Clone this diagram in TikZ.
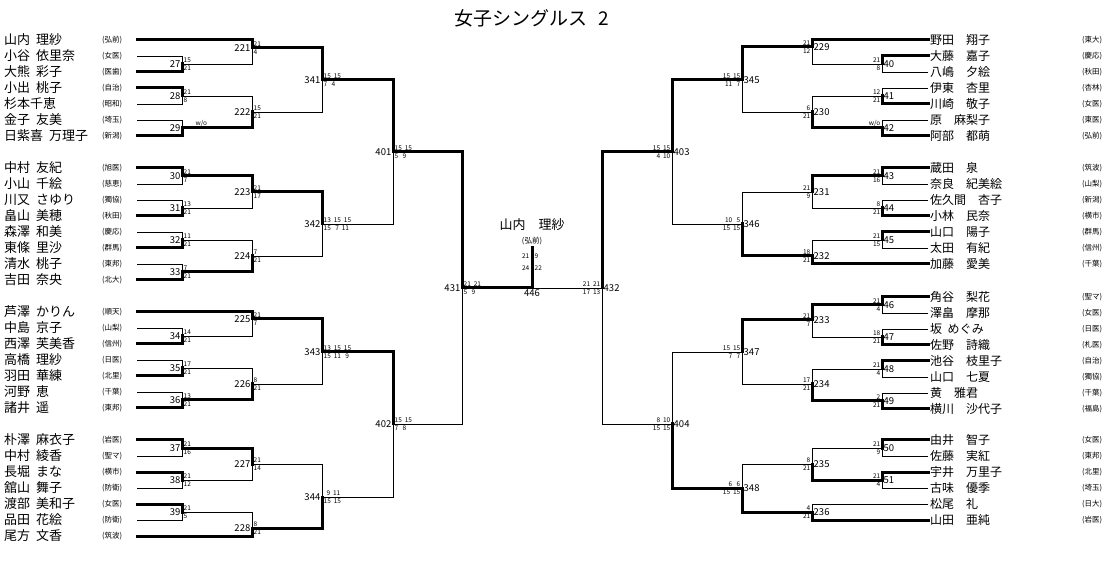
\documentclass[tikz,border=0pt]{standalone}
\usepackage{fontspec}
\setmainfont{Noto Sans CJK JP}
\usetikzlibrary{positioning}

\newcommand\hsp{\hspace{.45em}}
\newcommand\fsp{\hspace{1em}}

\tikzset{
  win/.style={line width=3pt,line cap=rect},
  lose/.style={line width=0.8pt},
  lname/.style={anchor=west,inner sep=0pt,font=\fontsize{13}{13}\selectfont},
  rname/.style={anchor=west,inner sep=0pt,font=\fontsize{12}{12}\selectfont},
  school/.style={anchor=west,inner sep=0pt,font=\fontsize{7.5}{7.5}\selectfont},
  num/.style={inner sep=1.5pt,font=\fontsize{9.5}{9.5}\selectfont},
  sc/.style={inner xsep=1.5pt,inner ysep=1.2pt,font=\fontsize{6.5}{6.5}\selectfont},
}

% winner path drawn over loser path
\newcommand\match[3]{%
  \draw[lose] (#3) -- (#3 -| #1) -- (#1);
  \draw[win] (#2) -- (#2 -| #1) -- (#1);}
% left and right match points with number and scores
\newcommand\lmat[5]{%
  \coordinate (m#1) at (#2,#3);
  \node[num,anchor=east] at (m#1) {#1};
  \node[sc,anchor=south west] at (m#1) {#4};
  \node[sc,anchor=north west] at (m#1) {#5};}
\newcommand\rmat[5]{%
  \coordinate (m#1) at (#2,#3);
  \node[num,anchor=west] at (m#1) {#1};
  \node[sc,anchor=south east] at (m#1) {#4};
  \node[sc,anchor=north east] at (m#1) {#5};}

\begin{document}
\begin{tikzpicture}[x=1pt,y=-1pt]
  \useasboundingbox (0,0) rectangle (1120,561);
  \node[font=\fontsize{19}{19}\selectfont] (title) at (532,18) {女子シングルス\hspace{.6em}2};

  % left players
  \foreach \p/\y/\n/\s in {
      l1/40/山内\hsp 理紗/弘前, l2/56/小谷\hsp 依里奈/女医, l3/72/大熊\hsp 彩子/医歯,
      l4/88/小出\hsp 桃子/自治, l5/104/杉本千恵/昭和, l6/120/金子\hsp 友美/埼玉,
      l7/136/日紫喜\hsp 万理子/新潟,
      l8/168/中村\hsp 友紀/旭医, l9/184/小山\hsp 千絵/慈恵, l10/200/川又\hsp さゆり/獨協,
      l11/216/畠山\hsp 美穂/秋田, l12/232/森澤\hsp 和美/慶応, l13/248/東條\hsp 里沙/群馬,
      l14/264/清水\hsp 桃子/東邦, l15/280/吉田\hsp 奈央/北大,
      l16/312/芦澤\hsp かりん/順天, l17/328/中島\hsp 京子/山梨, l18/344/西澤\hsp 芙美香/信州,
      l19/360/高橋\hsp 理紗/日医, l20/376/羽田\hsp 華練/北里, l21/392/河野\hsp 恵/千葉,
      l22/408/諸井\hsp 遥/東邦,
      l23/440/朴澤\hsp 麻衣子/岩医, l24/456/中村\hsp 綾香/聖マ, l25/472/長堀\hsp まな/横市,
      l26/488/舘山\hsp 舞子/防衛, l27/504/渡部\hsp 美和子/女医, l28/520/品田\hsp 花絵/防衛,
      l29/536/尾方\hsp 文香/筑波}
  {
    \node[lname] at (4,\y) {\n};
    \node[school] at (102,\y) {(\s)};
    \coordinate (\p) at (137,\y);
  }

  % right players
  \foreach \p/\y/\n/\s in {
      r1/40/野田\fsp 翔子/東大, r2/56/大藤\fsp 嘉子/慶応, r3/72/八嶋\fsp 夕絵/秋田,
      r4/88/伊東\fsp 杏里/杏林, r5/104/川崎\fsp 敬子/女医, r6/120/原\fsp 麻梨子/東医,
      r7/136/阿部\fsp 都萌/弘前,
      r8/168/蔵田\fsp 泉/筑波, r9/184/奈良\fsp 紀美絵/山梨, r10/200/佐久間\fsp 杏子/新潟,
      r11/216/小林\fsp 民奈/横市, r12/232/山口\fsp 陽子/群馬, r13/248/太田\fsp 有紀/信州,
      r14/264/加藤\fsp 愛美/千葉,
      r15/297/角谷\fsp 梨花/聖マ, r16/313/澤畠\fsp 摩那/女医, r17/329/坂\hsp めぐみ/日医,
      r18/345/佐野\fsp 詩織/札医, r19/361/池谷\fsp 枝里子/自治, r20/377/山口\fsp 七夏/獨協,
      r21/393/黄\fsp 雅君/千葉, r22/409/横川\fsp 沙代子/福島,
      r23/440/由井\fsp 智子/女医, r24/456/佐藤\fsp 実紅/東邦, r25/472/宇井\fsp 万里子/北里,
      r26/488/古味\fsp 優季/埼玉, r27/504/松尾\fsp 礼/日大, r28/520/山田\fsp 亜純/岩医}
  {
    \node[rname] at (930,\y) {\n};
    \node[school] at (1082,\y) {(\s)};
    \coordinate (\p) at (928,\y);
  }

  % left side
  \lmat{27}{182}{64}{15}{21}  \lmat{28}{182}{96}{21}{8}  \lmat{29}{182}{128}{}{}
  \lmat{221}{252}{48}{21}{4}  \lmat{222}{252}{112}{15}{21}
  \lmat{341}{322}{80}{15\ \ 15}{7\ \ \ 4}
  \lmat{30}{182}{176}{21}{7}  \lmat{31}{182}{208}{13}{21}
  \lmat{32}{182}{240}{11}{21} \lmat{33}{182}{272}{7}{21}
  \lmat{223}{252}{192}{21}{17} \lmat{224}{252}{256}{7}{21}
  \lmat{342}{322}{224}{13\ \ 15\ \ 15}{15\ \ \ 7\ \ 11}
  \lmat{401}{393}{152}{15\ \ 15}{5\ \ \ 9}
  \lmat{34}{182}{336}{14}{21}  \lmat{35}{182}{368}{17}{21}  \lmat{36}{182}{400}{13}{21}
  \lmat{225}{252}{319}{21}{7}  \lmat{226}{252}{384}{8}{21}
  \lmat{343}{322}{352}{13\ \ 15\ \ 15}{15\ \ 11\ \ \ 9}
  \lmat{37}{182}{448}{21}{16}  \lmat{38}{182}{480}{21}{12}  \lmat{39}{182}{512}{21}{5}
  \lmat{227}{252}{464}{21}{14} \lmat{228}{252}{528}{8}{21}
  \lmat{344}{322}{497}{\ \ 9\ \ 11}{15\ \ 15}
  \lmat{402}{393}{424}{15\ \ 15}{7\ \ \ 8}
  \lmat{431}{462}{288}{21\ \ 21}{5\ \ \ 9}
  \node[sc,anchor=south west,xshift=12pt] (wo29) at (m29) {w/o};

  \match{m27}{l3}{l2}   \match{m221}{l1}{m27}
  \match{m28}{l4}{l5}   \match{m29}{l7}{l6}   \match{m222}{m29}{m28}
  \match{m341}{m221}{m222}
  \match{m30}{l8}{l9}   \match{m31}{l11}{l10} \match{m223}{m30}{m31}
  \match{m32}{l13}{l12} \match{m33}{l15}{l14} \match{m224}{m33}{m32}
  \match{m342}{m223}{m224}
  \match{m401}{m341}{m342}
  \match{m34}{l18}{l17} \match{m225}{l16}{m34}
  \match{m35}{l20}{l19} \match{m36}{l22}{l21} \match{m226}{m36}{m35}
  \match{m343}{m225}{m226}
  \match{m37}{l23}{l24} \match{m38}{l25}{l26} \match{m227}{m37}{m38}
  \match{m39}{l27}{l28} \match{m228}{l29}{m39}
  \match{m344}{m228}{m227}
  \match{m402}{m343}{m344}
  \match{m431}{m401}{m402}

  % right side
  \rmat{40}{882}{64}{21}{8}   \rmat{41}{882}{96}{12}{21}  \rmat{42}{882}{128}{w/o}{}
  \rmat{229}{812}{47}{21}{12} \rmat{230}{812}{112}{6}{21}
  \rmat{345}{742}{80}{15\ \ 15}{11\ \ \ 7}
  \rmat{43}{882}{176}{21}{16} \rmat{44}{882}{208}{8}{21}  \rmat{45}{882}{240}{21}{15}
  \rmat{231}{812}{192}{21}{9} \rmat{232}{812}{256}{18}{21}
  \rmat{346}{742}{224}{10\ \ \ 5}{15\ \ 15}
  \rmat{403}{672}{152}{15\ \ 15}{4\ \ 10}
  \rmat{46}{882}{305}{21}{4}  \rmat{47}{882}{337}{18}{21}
  \rmat{48}{882}{369}{21}{4}  \rmat{49}{882}{401}{2}{21}
  \rmat{233}{812}{320}{21}{7} \rmat{234}{812}{384}{17}{21}
  \rmat{347}{742}{352}{15\ \ 15}{7\ \ \ 7}
  \rmat{50}{882}{448}{21}{9}  \rmat{51}{882}{480}{21}{4}
  \rmat{235}{812}{464}{8}{21} \rmat{236}{812}{512}{4}{21}
  \rmat{348}{742}{488}{6\ \ \ 6}{15\ \ 15}
  \rmat{404}{672}{424}{8\ \ 10}{15\ \ 15}
  \rmat{432}{602}{288}{21\ \ 21}{17\ \ 13}

  \match{m40}{r2}{r3}   \match{m229}{r1}{m40}
  \match{m41}{r5}{r4}   \match{m42}{r7}{r6}   \match{m230}{m42}{m41}
  \match{m345}{m229}{m230}
  \match{m43}{r8}{r9}   \match{m44}{r11}{r10} \match{m231}{m43}{m44}
  \match{m45}{r12}{r13} \match{m232}{r14}{m45}
  \match{m346}{m232}{m231}
  \match{m403}{m345}{m346}
  \match{m46}{r15}{r16} \match{m47}{r18}{r17} \match{m233}{m46}{m47}
  \match{m48}{r19}{r20} \match{m49}{r22}{r21} \match{m234}{m49}{m48}
  \match{m347}{m233}{m234}
  \match{m50}{r23}{r24} \match{m51}{r25}{r26} \match{m235}{m51}{m50}
  \match{m236}{r28}{r27}
  \match{m348}{m236}{m235}
  \match{m404}{m348}{m347}
  \match{m432}{m403}{m404}

  % final
  \coordinate (m446) at (532,288);
  \coordinate (champ) at (532,248);
  \draw[lose] (m432) -- (m446);
  \draw[win] (m431) -- (m446) -- (champ);
  \node[num,anchor=north] at (m446) {446};
  \node[font=\fontsize{13}{13}\selectfont] (winner) at (532,225) {山内\fsp 理紗};
  \node[school,anchor=center] (winsch) at (532,241) {(弘前)};
  \node[sc,anchor=east,yshift=-8pt,xshift=-1pt] at (champ) {21};
  \node[sc,anchor=west,yshift=-8pt,xshift=1pt] at (champ) {9};
  \node[sc,anchor=east,yshift=-20pt,xshift=-1pt] at (champ) {24};
  \node[sc,anchor=west,yshift=-20pt,xshift=1pt] at (champ) {22};
\end{tikzpicture}
\end{document}
